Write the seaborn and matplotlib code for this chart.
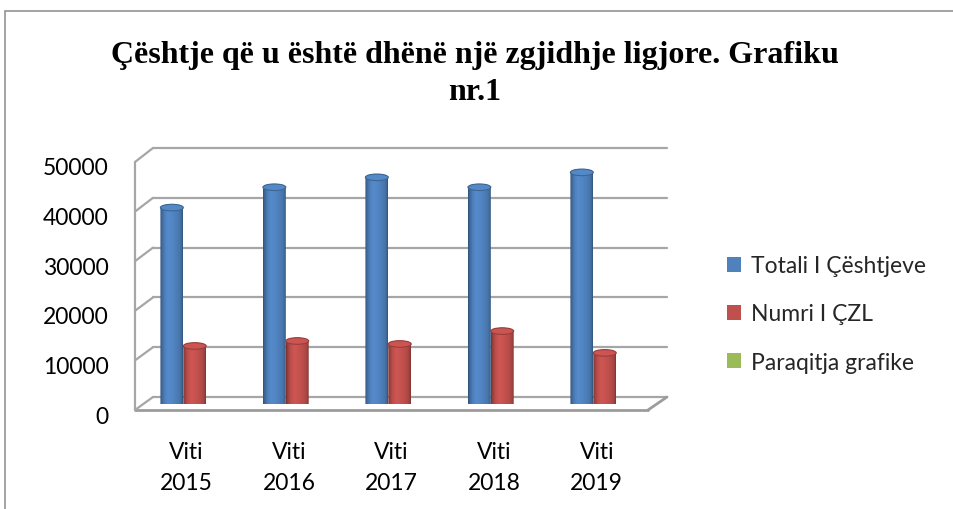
import numpy as np
import pandas as pd
import matplotlib
matplotlib.use("Agg")
import matplotlib.pyplot as plt
import seaborn as sns
from matplotlib.patches import Rectangle, Ellipse, PathPatch, Patch, ConnectionPatch
from matplotlib.path import Path
from matplotlib.colors import to_rgb
from matplotlib.transforms import ScaledTranslation

# ---- data -------------------------------------------------------------
years = ["Viti\n2015", "Viti\n2016", "Viti\n2017", "Viti\n2018", "Viti\n2019"]
series = ["Totali I Çështjeve", "Numri I ÇZL", "Paraqitja grafike"]
totali_ceshtjeve = [39600, 43700, 45700, 43700, 46700]
numri_czl = [11700, 12700, 12100, 14700, 10300]
paraqitja_grafike = [0, 0, 0, 0, 0]
y_ticks = [0, 10000, 20000, 30000, 40000, 50000]
series_colors = ["#4F81BD", "#C0504D", "#9BBB59"]
title = "Çështje që u është dhënë një zgjidhje ligjore. Grafiku\nnr.1"

df = pd.DataFrame({
    "year": years * 3,
    "series": [series[0]] * 5 + [series[1]] * 5 + [series[2]] * 5,
    "value": totali_ceshtjeve + numri_czl + paraqitja_grafike,
})

# ---- style ------------------------------------------------------------
sns.set_theme(style="white")
plt.rcParams["font.family"] = ["Lato", "DejaVu Sans"]
GRID = "#a6a6a6"
GRID_LW = 1.6

W, H = 954, 510
fig = plt.figure(figsize=(W / 100, H / 100), dpi=100)
fig.patch.set_facecolor("white")


def box(left, top, right, bottom):
    """Axes rectangle from pixel edges (origin top-left)."""
    return [left / W, 1 - bottom / H, (right - left) / W, (bottom - top) / H]


ax_back = fig.add_axes(box(153, 149, 667, 398))    # back wall
ax_front = fig.add_axes(box(135, 163, 648, 411))   # front plane (axis labels)
ax_bars = fig.add_axes(box(143.5, 157, 656, 405))  # bars at mid depth

for ax in (ax_back, ax_front, ax_bars):
    ax.set_xlim(-0.5, 4.5)
    ax.set_ylim(0, y_ticks[-1])
    ax.patch.set_visible(False)
    for s in ax.spines.values():
        s.set_visible(False)

# back wall gridlines
for v in y_ticks:
    ax_back.axhline(v, color=GRID, lw=GRID_LW, clip_on=False, zorder=1)
ax_back.set_xticks([])
ax_back.set_yticks([])

# side wall: diagonals joining the front edge to the back wall
for v in y_ticks:
    fig.add_artist(ConnectionPatch((-0.5, v), (-0.5, v),
                                   coordsA=ax_front.transData, coordsB=ax_back.transData,
                                   color=GRID, lw=GRID_LW))
ax_front.plot([-0.5, -0.5], [0, y_ticks[-1]], color=GRID, lw=GRID_LW, clip_on=False,
              solid_capstyle="round")

# floor outline
ax_front.plot([-0.5, 4.5], [0, 0], color="#9c9c9c", lw=2.0, clip_on=False,
              solid_capstyle="round")
fig.add_artist(ConnectionPatch((4.5, 0), (4.5, 0),
                               coordsA=ax_front.transData, coordsB=ax_back.transData,
                               color="#9c9c9c", lw=2.0))

# axis tick labels on the front plane
ax_front.set_yticks(y_ticks)
ax_front.set_yticklabels([str(v) for v in y_ticks])
ax_front.set_xticks(range(len(years)))
ax_front.set_xticklabels(years, linespacing=1.6)
ax_front.tick_params(axis="y", length=0, pad=19, labelsize=16.5, colors="black")
ax_front.tick_params(axis="x", length=0, pad=22, labelsize=16.5, colors="black")
ax_front.set_xlabel("")
ax_front.set_ylabel("")
shift_down = ScaledTranslation(0, -4 / 100, fig.dpi_scale_trans)
for lbl in ax_front.get_yticklabels():
    lbl.set_transform(lbl.get_transform() + shift_down)

# ---- bars ---------------------------------------------------------------
sns.barplot(data=df, x="year", y="value", hue="series", order=years,
            hue_order=series, palette=series_colors, saturation=1,
            width=0.67, gap=0, legend=False, ax=ax_bars)
ax_bars.set_xlim(-0.5, 4.5)
ax_bars.set_ylim(0, y_ticks[-1])
ax_bars.axis("off")

# turn each flat bar into a shaded cylinder
px_per_unit = (405 - 157) / y_ticks[-1]
ry = 3.3 / px_per_unit  # half-height of the elliptical ends
prof_pos = [0.0, 0.07, 0.2, 0.35, 0.6, 0.85, 0.95, 1.0]
prof_fac = [0.62, 0.80, 0.98, 1.08, 1.02, 0.92, 0.80, 0.64]

for p in list(ax_bars.patches):
    h = p.get_height()
    if h <= 0:
        p.set_visible(False)
        continue
    x0, w = p.get_x(), p.get_width()
    x1, cx = x0 + w, x0 + w / 2
    base = np.array(to_rgb(p.get_facecolor()))
    p.set_visible(False)

    t_low = np.linspace(np.pi, 2 * np.pi, 40)
    t_up = np.linspace(0, np.pi, 40)
    verts = np.vstack([
        np.column_stack([cx + w / 2 * np.cos(t_low), ry * np.sin(t_low)]),
        [[x1, h]],
        np.column_stack([cx + w / 2 * np.cos(t_up), h + ry * np.sin(t_up)]),
        [[x0, 0]],
    ])
    body = PathPatch(Path(verts, closed=True), transform=ax_bars.transData)

    xs = np.linspace(0, 1, 64)
    fac = np.interp(xs, prof_pos, prof_fac)
    grad = np.clip(base[None, None, :] * fac[None, :, None], 0, 1)
    im = ax_bars.imshow(grad, extent=(x0, x1, -ry, h + ry), aspect="auto",
                        interpolation="bilinear", zorder=2)
    im.set_clip_path(body)

    cap_face = np.clip(base * 1.06, 0, 1)
    cap_edge = base * 0.78
    ax_bars.add_patch(Ellipse((cx, h), w, 2 * ry, facecolor=cap_face,
                              edgecolor=cap_edge, lw=0.8, zorder=3))

ax_bars.set_xlim(-0.5, 4.5)
ax_bars.set_ylim(0, y_ticks[-1])

# ---- legend ---------------------------------------------------------------
handles = [Patch(facecolor=c, edgecolor="none") for c in series_colors]
fig.legend(handles, series, loc="center left", bbox_to_anchor=(727 / W, 1 - 315 / H),
           frameon=False, fontsize=16.5, handlelength=0.6, handleheight=0.6,
           handletextpad=0.45, labelspacing=1.18, borderpad=0, borderaxespad=0)

# ---- title ----------------------------------------------------------------
fig.text(475 / W, 1 - 74 / H, title, ha="center", va="center",
         fontfamily=["Liberation Serif", "DejaVu Serif"], fontweight="bold",
         fontsize=23, linespacing=1.4, color="black")

# chart frame (only the top and left edges fall inside the image)
fig.add_artist(Rectangle((5 / W, -0.05), 1.2, 1.05 - 12 / H, transform=fig.transFigure,
                         fill=False, edgecolor="#8a8a8a", lw=1.1, clip_on=False))

fig.savefig("out.png", dpi=100, facecolor="white")
